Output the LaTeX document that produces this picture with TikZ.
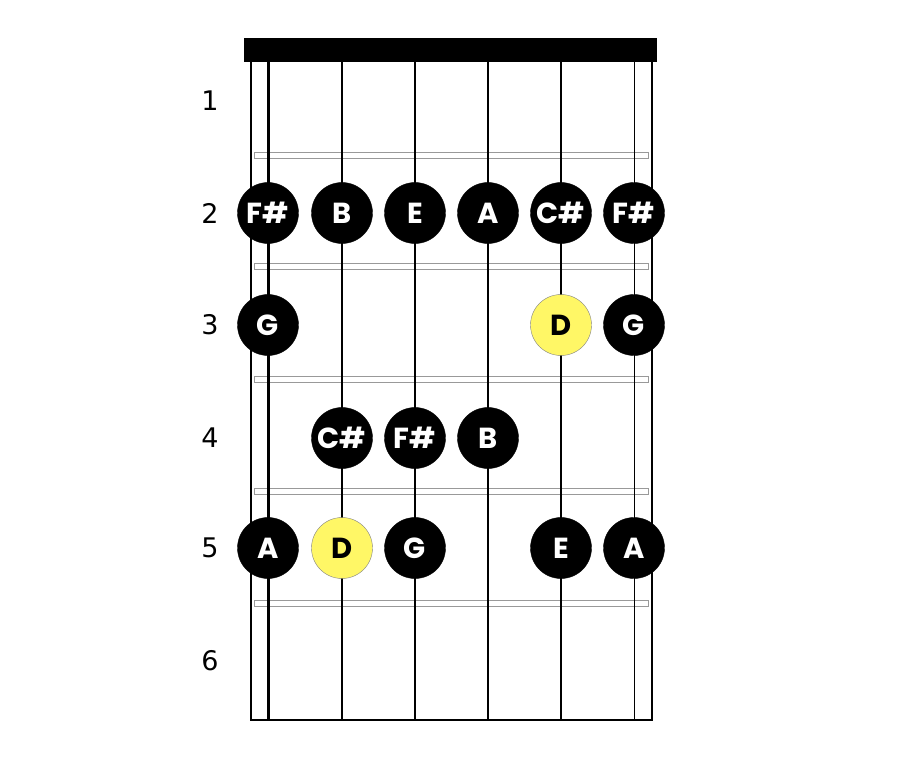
\documentclass[tikz,border=0pt]{standalone}
\usepackage{fontspec}
\newfontfamily\notefont{Poppins}
\newfontfamily\numfont{DejaVu Sans}

\begin{document}
\begin{tikzpicture}[x=1pt, y=-1pt,
  note/.style = {circle, fill=black, draw=black, minimum size=61pt, inner sep=0pt,
    text=white, font=\notefont\bfseries\fontsize{29}{29}\selectfont},
  root/.style = {note, fill=yellow!60, draw=gray, text=black},
  fretnum/.style = {font=\numfont\fontsize{27}{27}\selectfont},
  fret/.style = {draw=gray!80, line width=0.8pt}]

\useasboundingbox (0,0) rectangle (901,781);

% board and nut
\draw[line width=2.8pt] (251,50) -- (251,720) -- (652,720) -- (652,50);
\fill (244,38) rectangle (657,62);

% frets
\foreach \y in {155,266,379,491,603}
  \draw[fret] (254,\y-3) rectangle (648,\y+3);

% strings
\foreach \x/\w in {268/3.0, 342/2.7, 415/2.2, 488/1.7, 561/1.2, 634/0.8}
  \draw[line width=\w pt] (\x,62) -- (\x,720);

% fret numbers
\foreach \n/\y in {1/101, 2/213, 3/325, 4/438, 5/548, 6/661}
  \node[fretnum] (num\n) at (210,\y) {\n};

% notes, fret 2
\node[note] (f2s1) at (268,213) {F\#};
\node[note] (f2s2) at (342,213) {B};
\node[note] (f2s3) at (415,213) {E};
\node[note] (f2s4) at (488,213) {A};
\node[note] (f2s5) at (561,213) {C\#};
\node[note] (f2s6) at (634,213) {F\#};

% fret 3
\node[note] (f3s1) at (268,325) {G};
\node[root] (f3s5) at (561,325) {D};
\node[note] (f3s6) at (634,325) {G};

% fret 4
\node[note] (f4s2) at (342,438) {C\#};
\node[note] (f4s3) at (415,438) {F\#};
\node[note] (f4s4) at (488,438) {B};

% fret 5
\node[note] (f5s1) at (268,548) {A};
\node[root] (f5s2) at (342,548) {D};
\node[note] (f5s3) at (415,548) {G};
\node[note] (f5s5) at (561,548) {E};
\node[note] (f5s6) at (634,548) {A};
\end{tikzpicture}
\end{document}
